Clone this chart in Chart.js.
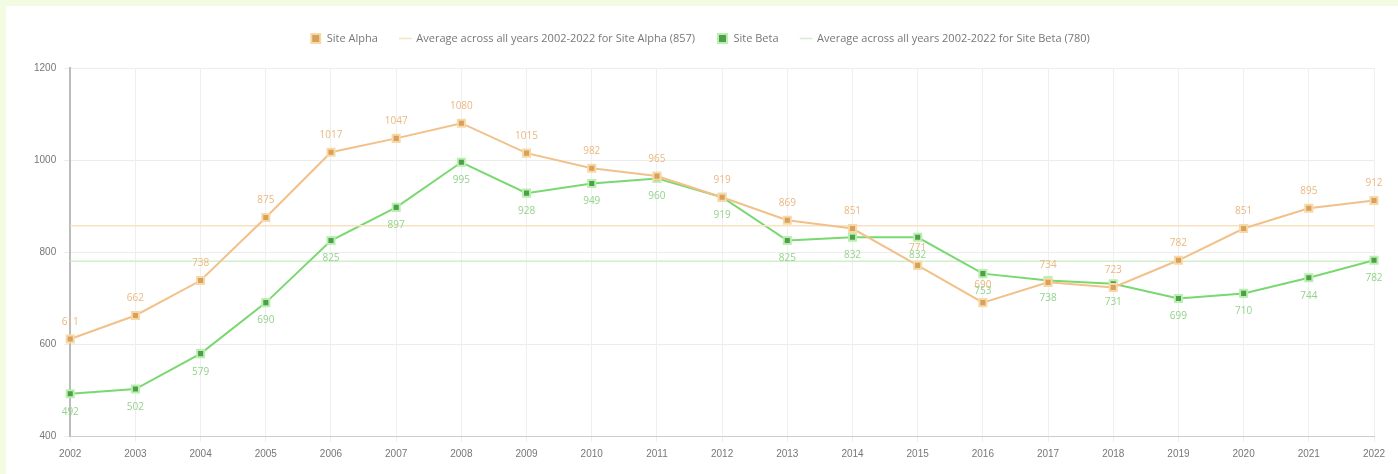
<!DOCTYPE html>
<html>
<head>
<meta charset="utf-8">
<script src="https://cdn.jsdelivr.net/npm/chart.js@4"></script>
<style>
  html, body { margin: 0; padding: 0; background: #f3fbe2; }
  .wrap { position: absolute; left: 6px; top: 6px; width: 1392px; height: 468px; background: #fff; }
</style>
</head>
<body>
<div class="wrap"><canvas id="chart" width="1392" height="468"></canvas></div>
<script>
const years = ['2002', '2003', '2004', '2005', '2006', '2007', '2008', '2009', '2010', '2011', '2012',
  '2013', '2014', '2015', '2016', '2017', '2018', '2019', '2020', '2021', '2022']
const siteAlpha = [611, 662, 738, 875, 1017, 1047, 1080, 1015, 982, 965, 919, 869, 851, 771, 690, 734, 723, 782, 851, 895, 912]
const siteBeta = [492, 502, 579, 690, 825, 897, 995, 928, 949, 960, 919, 825, 832, 832, 753, 738, 731, 699, 710, 744, 782]
const avgAlpha = 857
const avgBeta = 780
const yTicks = [400, 600, 800, 1000, 1200]

const orange = '#f2c089'
const orangePt = '#d9a05b'
const green = '#79d86f'
const greenPt = '#4f9f4a'

// value labels: above the orange points, below the green ones
const pointLabels = {
  id: 'pointLabels',
  afterDatasetsDraw(chart) {
    const ctx = chart.ctx
    ctx.save()
    ctx.font = '10px "Open Sans", sans-serif'
    ctx.textAlign = 'center'
    ;[0, 2].forEach(i => {
      const meta = chart.getDatasetMeta(i)
      const data = chart.data.datasets[i].data
      meta.data.forEach((pt, j) => {
        if (i === 0) {
          ctx.fillStyle = '#ebb77f'
          ctx.textBaseline = 'bottom'
          ctx.fillText(data[j], pt.x, pt.y - 12)
        } else {
          ctx.fillStyle = '#93d38b'
          ctx.textBaseline = 'top'
          ctx.fillText(data[j], pt.x, pt.y + 13)
        }
      })
    })
    ctx.restore()
  }
}

// extra room under the legend
const legendGap = {
  id: 'legendGap',
  beforeInit(chart) {
    const fit = chart.legend.fit
    chart.legend.fit = function () {
      fit.bind(chart.legend)()
      this.height += 14
    }
  }
}

new Chart(document.getElementById('chart'), {
  type: 'line',
  data: {
    labels: years,
    datasets: [
      {
        label: 'Site Alpha',
        data: siteAlpha,
        borderColor: orange,
        backgroundColor: orangePt,
        borderWidth: 2,
        pointStyle: 'rect',
        pointRadius: 5,
        pointBackgroundColor: orangePt,
        pointBorderColor: '#f7d9a8',
        pointBorderWidth: 2,
        tension: 0
      },
      {
        label: 'Average across all years 2002-2022 for Site Alpha (' + avgAlpha + ')',
        data: years.map(() => avgAlpha),
        borderColor: '#f8e2c0',
        backgroundColor: '#f8e2c0',
        borderWidth: 1.5,
        pointRadius: 0,
        pointStyle: 'line'
      },
      {
        label: 'Site Beta',
        data: siteBeta,
        borderColor: green,
        backgroundColor: greenPt,
        borderWidth: 2,
        pointStyle: 'rect',
        pointRadius: 5,
        pointBackgroundColor: greenPt,
        pointBorderColor: '#b9f0b0',
        pointBorderWidth: 2,
        tension: 0
      },
      {
        label: 'Average across all years 2002-2022 for Site Beta (' + avgBeta + ')',
        data: years.map(() => avgBeta),
        borderColor: '#d2efcc',
        backgroundColor: '#d2efcc',
        borderWidth: 1.5,
        pointRadius: 0,
        pointStyle: 'line'
      }
    ]
  },
  options: {
    responsive: false,
    animation: false,
    layout: { padding: { left: 20, right: 24, top: 5, bottom: 8 } },
    plugins: {
      legend: {
        labels: {
          usePointStyle: true,
          boxWidth: 11,
          boxHeight: 9,
          padding: 22,
          color: '#777',
          font: { size: 11, family: '"Open Sans", sans-serif' }
        }
      },
      tooltip: { enabled: false }
    },
    scales: {
      y: {
        min: yTicks[0],
        max: yTicks[yTicks.length - 1],
        afterBuildTicks: axis => { axis.ticks = yTicks.map(v => ({ value: v })) },
        ticks: { color: '#777', font: { size: 10 }, padding: 8, callback: v => String(v) },
        grid: { color: '#ececec', tickLength: 6 },
        border: { color: '#bbb', width: 2 }
      },
      x: {
        ticks: { color: '#777', font: { size: 10 }, maxRotation: 0, autoSkip: false, padding: 6 },
        grid: { color: '#efefef', tickLength: 6 },
        border: { color: '#ccc' }
      }
    }
  },
  plugins: [pointLabels, legendGap]
})
</script>
</body>
</html>
